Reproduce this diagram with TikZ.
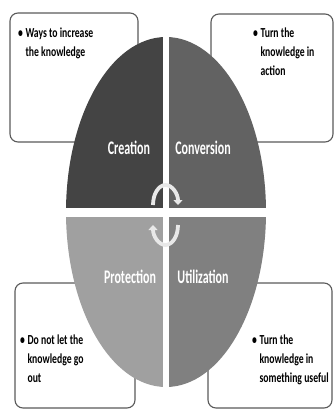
\documentclass[tikz,border=0pt]{standalone}
\usepackage{fontspec}
\setmainfont{Carlito}
\usetikzlibrary{arrows.meta}
\definecolor{creationgray}{RGB}{68,68,68}
\definecolor{conversiongray}{RGB}{98,98,98}
\definecolor{protectiongray}{RGB}{160,160,160}
\definecolor{utilizationgray}{RGB}{128,128,128}
\definecolor{boxline}{RGB}{90,90,90}
\definecolor{turngray}{RGB}{232,232,232}

\begin{document}
\begin{tikzpicture}[x=1pt, y=-1pt,
    infobox/.style={draw=boxline, line width=1.1pt, rounded corners=8pt, fill=white},
    infotext/.style={anchor=north west, inner sep=0pt, yscale=1.42, align=left, font=\fontsize{9.7}{13.4}\selectfont\bfseries},
    quadlabel/.style={text=white, inner sep=0pt, yscale=1.6, font=\fontsize{12}{15}\selectfont\bfseries},
    turnarrow/.style={turngray, line width=3.8pt, -{Triangle[width=9pt,length=5pt]}}]
    \useasboundingbox (0,0) rectangle (335,410);
    % Boxes
    \draw[infobox] (10,13) rectangle (138,142);
    \draw[infobox] (211,14) rectangle (333,142);
    \draw[infobox] (15,283) rectangle (135,408);
    \draw[infobox] (208,283) rectangle (332,408);
    % Quadrants
    \coordinate (mid) at (166,212);
    \fill[creationgray] (mid) -- (66,212) arc[start angle=180, end angle=270, x radius=100, y radius=175] -- cycle;
    \fill[conversiongray] (mid) -- (166,37) arc[start angle=270, end angle=360, x radius=100, y radius=175] -- cycle;
    \fill[utilizationgray] (mid) -- (266,212) arc[start angle=0, end angle=90, x radius=100, y radius=175] -- cycle;
    \fill[protectiongray] (mid) -- (166,387) arc[start angle=90, end angle=180, x radius=100, y radius=175] -- cycle;
    \draw[white, line width=6pt] (166,30) -- (166,394);
    \draw[white, line width=9pt] (60,212.5) -- (272,212.5);
    % Arrows
    \draw[turnarrow] (153,205) arc[start angle=180, end angle=360, x radius=12.5, y radius=20];
    \draw[turnarrow] (178,225) arc[start angle=0, end angle=180, x radius=12.5, y radius=20];
    % Labels
    \node[quadlabel] (creation) at (129,148) {Creation};
    \node[quadlabel] (conversion) at (203,148) {Conversion};
    \node[quadlabel] (protection) at (130,277) {Protection};
    \node[quadlabel] (utilization) at (203,277) {Utilization};
    \node[infotext] (increase) at (18,24) {\begin{tabular}{@{}l@{\hspace{2.5pt}}l@{}}\textbullet & Ways to increase\\ & the knowledge\end{tabular}};
    \node[infotext] (action) at (253,24) {\begin{tabular}{@{}l@{\hspace{2.5pt}}l@{}}\textbullet & Turn the\\ & knowledge in\\ & action\end{tabular}};
    \node[infotext] (goout) at (20,331) {\begin{tabular}{@{}l@{\hspace{2.5pt}}l@{}}\textbullet & Do not let the\\ & knowledge go\\ & out\end{tabular}};
    \node[infotext] (useful) at (252,331) {\begin{tabular}{@{}l@{\hspace{2.5pt}}l@{}}\textbullet & Turn the\\ & knowledge in\\ & something useful\end{tabular}};
\end{tikzpicture}
\end{document}
